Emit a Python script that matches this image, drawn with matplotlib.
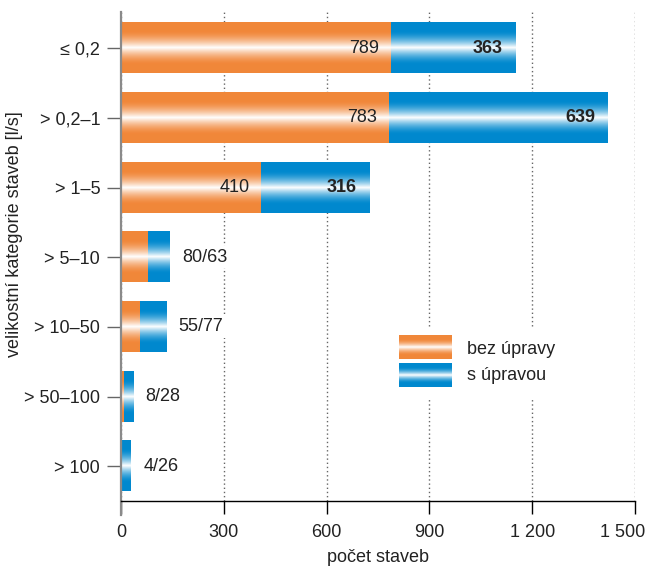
import numpy as np
import matplotlib
matplotlib.use("Agg")
import matplotlib.pyplot as plt
from matplotlib.patches import Rectangle
from matplotlib.transforms import ScaledTranslation

plt.rcParams["font.family"] = ["Liberation Sans", "DejaVu Sans"]

categories = ["≤ 0,2", "> 0,2–1", "> 1–5", "> 5–10", "> 10–50", "> 50–100", "> 100"]
bez_upravy = [789, 783, 410, 80, 55, 8, 4]
s_upravou = [363, 639, 316, 63, 77, 28, 26]
xticks = [0, 300, 600, 900, 1200, 1500]
xtick_labels = ["0", "300", "600", "900", "1 200", "1 500"]
series_names = ["bez úpravy", "s úpravou"]

ORANGE = (0.945, 0.530, 0.227)
BLUE = (0.0, 0.537, 0.808)
TEXT = "#222222"
FS = 13


def gradient(color, n=256):
    """Vertical band: solid colour at the edges, white highlight in the middle."""
    t = np.linspace(-1, 1, n)
    w = np.clip(1 - np.abs(t) / 0.65, 0, 1) ** 1.6
    c = np.array(color)
    rgb = c[None, :] * (1 - w[:, None]) + w[:, None]
    return rgb[:, None, :]


fig = plt.figure(figsize=(6.47, 5.70), dpi=100)
ax = fig.add_axes([121 / 647, 1 - 501 / 570, 514 / 647, (501 - 12) / 570])

h = 0.72
for i, (a, b) in enumerate(zip(bez_upravy, s_upravou)):
    ax.imshow(gradient(ORANGE), extent=(0, a, i + h / 2, i - h / 2),
              aspect="auto", interpolation="bilinear", zorder=2)
    ax.imshow(gradient(BLUE), extent=(a, a + b, i + h / 2, i - h / 2),
              aspect="auto", interpolation="bilinear", zorder=2)
    if a > 200:
        ax.annotate(str(a), xy=(a, i), xytext=(-12, 0), textcoords="offset pixels",
                    ha="right", va="center", fontsize=FS, color=TEXT, zorder=4)
        ax.annotate(str(b), xy=(a + b, i), xytext=(-13, 0), textcoords="offset pixels",
                    ha="right", va="center", fontsize=FS, color=TEXT,
                    fontweight="bold", zorder=4)
    else:
        ax.annotate(f"{a}/{b}", xy=(a + b, i), xytext=(12, 0), textcoords="offset pixels",
                    ha="left", va="center", fontsize=FS, color=TEXT, zorder=4,
                    bbox=dict(boxstyle="square,pad=0.15", fc="white", ec="none"))

# legend drawn in axes coordinates
ax.add_patch(Rectangle((0.53, 0.21), 0.34, 0.145, transform=ax.transAxes,
                       fc="white", ec="none", zorder=1.5))
for (y0, y1), col, name, ty in [((0.290, 0.339), ORANGE, series_names[0], 0.309),
                                ((0.233, 0.282), BLUE, series_names[1], 0.256)]:
    ax.imshow(gradient(col), extent=(0.541, 0.644, y0, y1), transform=ax.transAxes,
              aspect="auto", interpolation="bilinear", zorder=2)
    ax.text(0.673, ty, name, transform=ax.transAxes, ha="left", va="center",
            fontsize=FS, color=TEXT, zorder=4)

ax.set_xlim(0, 1500)
ax.set_ylim(6.5, -0.52)

ax.set_xticks(xticks)
ax.set_xticklabels(xtick_labels)
ax.set_yticks(range(len(categories)))
ax.set_yticklabels(categories)
ax.tick_params(axis="x", length=9.5, width=1, color="black", pad=7,
               labelsize=FS, labelcolor=TEXT)
ax.tick_params(axis="y", length=10, width=1, color="#666666", pad=5,
               labelsize=FS, labelcolor=TEXT)

# keep the last x tick label inside the figure
last = ax.get_xticklabels()[-1]
last.set_transform(last.get_transform() + ScaledTranslation(-0.12, 0, fig.dpi_scale_trans))

ax.grid(axis="x", linestyle=(0, (1, 2)), color="#666666", linewidth=1)
ax.set_axisbelow(True)

for s in ["top", "right"]:
    ax.spines[s].set_visible(False)
ax.spines["left"].set_color("#8a8a8a")
ax.spines["left"].set_linewidth(1.6)
ax.spines["left"].set_bounds(-0.52, 6.7)
ax.spines["bottom"].set_color("black")
ax.spines["bottom"].set_linewidth(1)

fig.text(0.023, 1 - 234 / 570, "velikostní kategorie staveb [l/s]", rotation=90,
         ha="center", va="center", fontsize=FS, color=TEXT)
fig.text(378 / 647, 1 - 557 / 570, "počet staveb", ha="center", va="center",
         fontsize=FS, color=TEXT)

fig.savefig("out.png", dpi=100)
